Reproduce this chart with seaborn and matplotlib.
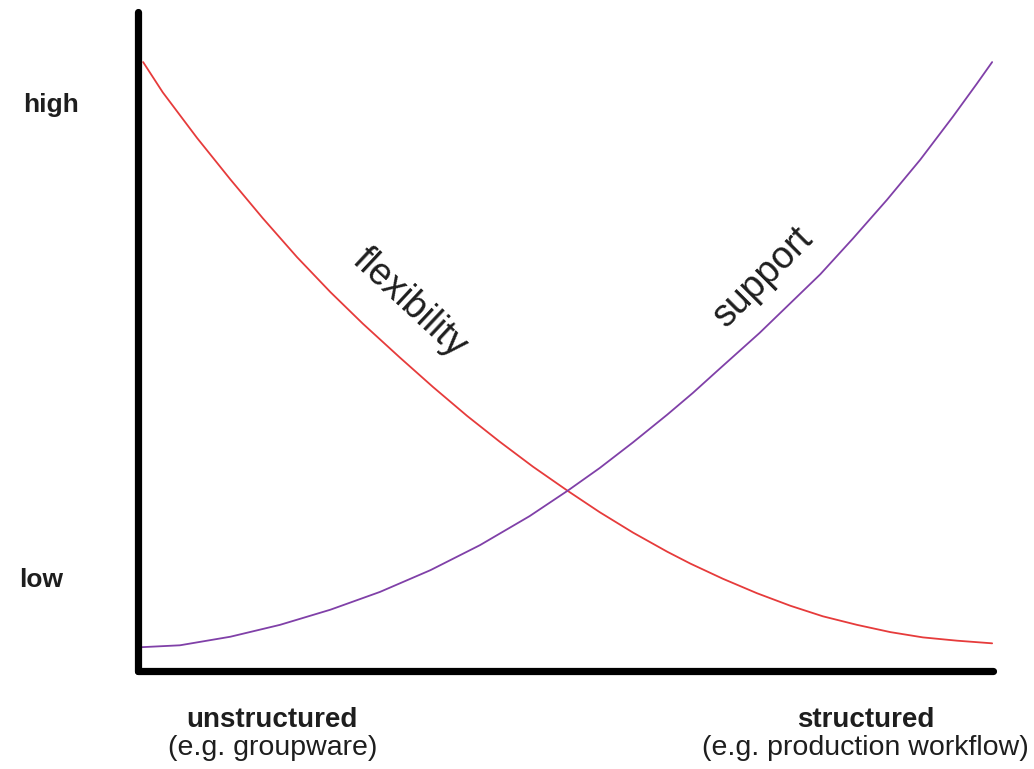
import matplotlib
matplotlib.use("Agg")
import matplotlib.pyplot as plt
import seaborn as sns
import pandas as pd

# Degree of structure (0 = unstructured, 100 = structured)
flex_x = [0.6, 2.9, 6.9, 10.8, 14.6, 18.6, 22.5, 26.3, 30.6, 34.5, 38.5, 42.3,
          46.2, 50.3, 54.0, 57.9, 61.9, 64.6, 68.4, 72.4, 76.3, 80.1, 84.1,
          88.0, 91.8, 95.8, 99.9]
flex_y = [92.4, 87.8, 80.9, 74.6, 68.7, 62.8, 57.5, 52.7, 47.6, 43.1, 38.7, 34.8,
          31.0, 27.3, 24.1, 21.0, 18.1, 16.3, 14.0, 11.8, 9.9, 8.3, 7.0,
          5.9, 5.1, 4.6, 4.2]

supp_x = [0.2, 4.9, 10.8, 16.6, 22.5, 28.3, 34.2, 40.0, 45.8, 50.3, 54.0, 57.9,
          61.9, 64.9, 67.8, 72.7, 79.8, 83.6, 87.6, 91.5, 95.3, 98.1, 99.9]
supp_y = [3.6, 3.9, 5.2, 7.0, 9.3, 12.0, 15.3, 19.1, 23.5, 27.4, 30.8, 34.7,
          38.9, 42.2, 45.6, 51.3, 60.2, 65.6, 71.5, 77.6, 84.1, 89.1, 92.4]

level_labels = ["high", "low"]
level_pos = [85.9, 13.8]
end_labels = ["unstructured", "structured"]
end_sub = ["(e.g. groupware)", "(e.g. production workflow)"]
end_pos = [15.7, 85.1]
curve_names = ["flexibility", "support"]

sns.set_style("white")
plt.rcParams["font.family"] = ["Liberation Sans", "DejaVu Sans"]

df_flex = pd.DataFrame({"x": flex_x, "y": flex_y})
df_supp = pd.DataFrame({"x": supp_x, "y": supp_y})

fig = plt.figure(figsize=(10.34, 7.69), dpi=100)
W, H = 1034, 769
ax = fig.add_axes([138 / W, 1 - 671 / H, 855 / W, 659 / H])

sns.lineplot(data=df_flex, x="x", y="y", ax=ax, color="#e63b3b", lw=1.3, sort=False)
sns.lineplot(data=df_supp, x="x", y="y", ax=ax, color="#8040a8", lw=1.3, sort=False)
for ln in ax.get_lines():
    ln.set_solid_joinstyle("round")

ax.set_xlim(0, 100)
ax.set_ylim(0, 100)
ax.set_xticks([])
ax.set_yticks([])
ax.set_xlabel("")
ax.set_ylabel("")
for s in ["top", "right"]:
    ax.spines[s].set_visible(False)
for s in ["left", "bottom"]:
    ax.spines[s].set_linewidth(5.2)
    ax.spines[s].set_color("black")
    ax.spines[s].set_capstyle("round")

tc = "#1e1e1e"
fs = 19
# level labels
ax.text(-0.102, level_pos[0], level_labels[0], transform=ax.get_yaxis_transform(),
        ha="center", va="center", fontsize=fs, fontweight="bold", color=tc)
ax.text(-0.113, level_pos[1], level_labels[1], transform=ax.get_yaxis_transform(),
        ha="center", va="center", fontsize=fs, fontweight="bold", color=tc)

# end labels
for xp, lab, sub in zip(end_pos, end_labels, end_sub):
    ax.text(xp, -0.074, lab, transform=ax.get_xaxis_transform(), ha="center",
            va="center", fontsize=20, fontweight="bold", color=tc)
    ax.text(xp, -0.117, sub, transform=ax.get_xaxis_transform(), ha="center",
            va="center", fontsize=20.5, color=tc)

# curve labels
ax.text(31.7, 55.8, curve_names[0], rotation=-43, rotation_mode="anchor",
        ha="center", va="center", fontsize=27, color=tc)
ax.text(73.2, 59.8, curve_names[1], rotation=45, rotation_mode="anchor",
        ha="center", va="center", fontsize=27, color=tc)

fig.savefig("out.png", dpi=100, facecolor="white")
